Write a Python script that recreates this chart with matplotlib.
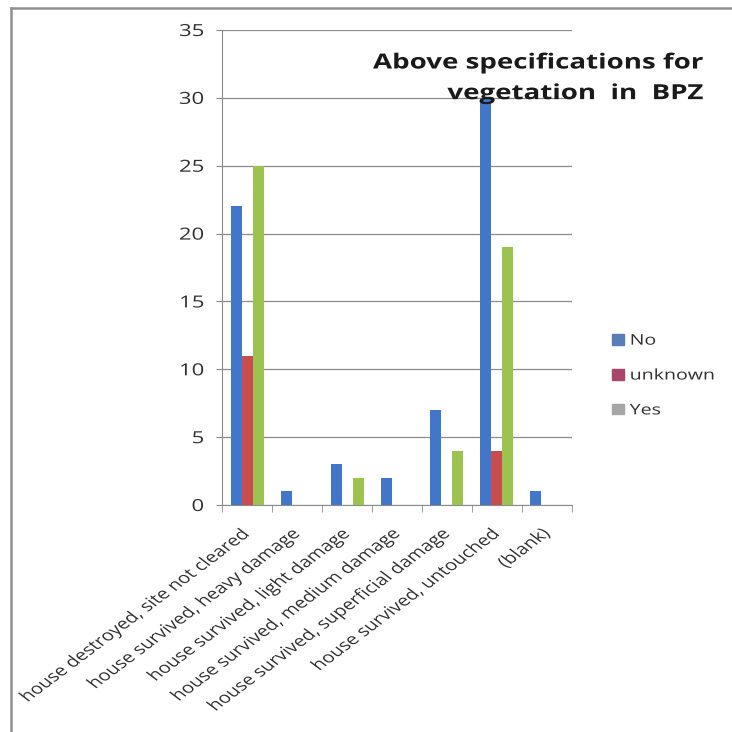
import numpy as np
import matplotlib.pyplot as plt
from matplotlib.lines import Line2D
from matplotlib.patches import Patch
from matplotlib.patheffects import AbstractPathEffect
from matplotlib.transforms import Affine2D, ScaledTranslation

plt.rcParams['font.family'] = ['Open Sans', 'DejaVu Sans']

categories = [
    "house destroyed, site not cleared",
    "house survived, heavy damage",
    "house survived, light damage",
    "house survived, medium damage",
    "house survived, superficial damage",
    "house survived, untouched",
    "(blank)",
]
series_names = ["No", "unknown", "Yes"]
no_vals = [22, 1, 3, 2, 7, 30, 1]
unknown_vals = [11, 0, 0, 0, 0, 4, 0]
yes_vals = [25, 0, 2, 0, 4, 19, 0]
y_ticks = [0, 5, 10, 15, 20, 25, 30, 35]

bar_colors = ["#4176c9", "#c94c4f", "#9cc24f"]
legend_colors = ["#5b7db5", "#a8456a", "#a6a6a6"]


class WideText(AbstractPathEffect):
    """Stretch glyphs horizontally (the source picture is stretched)."""

    def __init__(self, sx=1.33, keep='right'):
        super().__init__()
        self.sx = sx
        self.keep = keep

    def draw_path(self, renderer, gc, tpath, affine, rgbFace=None):
        if len(tpath.vertices) == 0:
            return
        xs = affine.transform(tpath.vertices)[:, 0]
        x0 = xs.max() if self.keep == 'right' else xs.min()
        stretch = Affine2D().translate(-x0, 0).scale(self.sx, 1).translate(x0, 0)
        renderer.draw_path(gc, tpath, affine + stretch, rgbFace)


fig = plt.figure(figsize=(7.32, 7.32), dpi=100)
ax = fig.add_axes([0.3033, 0.3101, 0.4781, 0.6489])

x = np.arange(len(categories))
w = 0.22
for i, vals in enumerate([no_vals, unknown_vals, yes_vals]):
    ax.bar(x + (i - 1) * w, vals, width=w, color=bar_colors[i], zorder=3)

ax.set_xlim(-0.5, len(categories) - 0.5)
ax.set_ylim(0, 35)
ax.set_yticks(y_ticks)
ax.yaxis.grid(True, color="#8c8c8c", lw=0.9, zorder=0)
ax.tick_params(axis='y', length=4, color="#8c8c8c", labelsize=12, pad=9,
               labelcolor="#303030")

ax.set_xticks(x)
ax.set_xticklabels(categories, rotation=45, ha='right', va='top',
                   rotation_mode='anchor', fontsize=11, color="#303030")
ax.tick_params(axis='x', length=0, pad=15.5)
ax.set_xticks(np.arange(-0.5, len(categories), 1.0), minor=True)
ax.tick_params(axis='x', which='minor', length=5, color="#8c8c8c")

shift = ScaledTranslation(-4 / 100, 0, fig.dpi_scale_trans)
for lab in ax.get_xticklabels():
    lab.set_transform(lab.get_transform() + shift)
    lab.set_path_effects([WideText(keep='right')])
for lab in ax.get_yticklabels():
    lab.set_path_effects([WideText(keep='right')])

for s in ['top', 'right']:
    ax.spines[s].set_visible(False)
for s in ['left', 'bottom']:
    ax.spines[s].set_color("#8c8c8c")

handles = [Patch(color=c) for c in legend_colors]
leg = fig.legend(handles, series_names, loc='center left',
                 bbox_to_anchor=(0.818, 0.4863), frameon=False, fontsize=10.6,
                 handlelength=0.8, handleheight=0.7, handletextpad=0.4,
                 labelspacing=1.35, labelcolor="#303030")
for t in leg.get_texts():
    t.set_path_effects([WideText(keep='left')])

title = fig.text(0.961, 0.893, "Above specifications for\nvegetation  in  BPZ",
                 ha='right', va='center', fontsize=15, fontweight='bold',
                 linespacing=1.6, color="#1a1a1a")
title.set_path_effects([WideText(keep='right')])

# outer chart frame (left and top edges)
fig.add_artist(Line2D([0.015, 0.015], [0.0, 0.989], color="#909090", lw=1.8,
                      transform=fig.transFigure))
fig.add_artist(Line2D([0.015, 1.0], [0.989, 0.989], color="#909090", lw=1.8,
                      transform=fig.transFigure))

fig.savefig("out.png", dpi=100, facecolor="white")
